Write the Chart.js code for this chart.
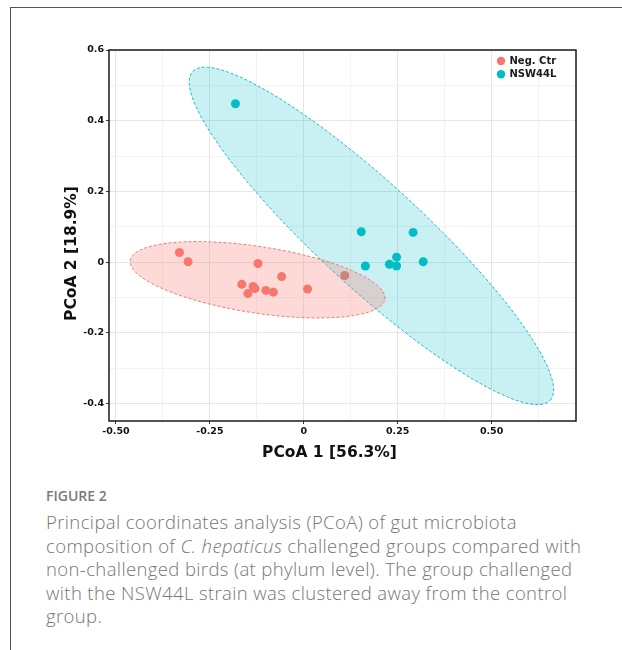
<!DOCTYPE html>
<html>
<head>
<meta charset="utf-8">
<script src="https://cdn.jsdelivr.net/npm/chart.js@4.4.1/dist/chart.umd.min.js"></script>
<style>
  html, body { margin: 0; padding: 0; background: #fff; }
  body { width: 622px; height: 650px; position: relative; overflow: hidden; }
  .frame { position: absolute; left: 10px; top: 7px; right: -2px; bottom: -2px; border-top: 1px solid #555; border-left: 1px solid #555; }
  #plot { position: absolute; left: 0; top: 0; }
  .fig-label { position: absolute; left: 46px; top: 486px; font: 600 14px "Open Sans", sans-serif; color: #7a7a7a; }
  .caption { position: absolute; left: 46px; top: 510px; font: 300 18.5px/23.6px "Open Sans", sans-serif; letter-spacing: 0.38px; color: #767676; white-space: nowrap; }
</style>
</head>
<body>
<div class="frame"></div>
<canvas id="plot" width="622" height="475"></canvas>
<div class="fig-label">FIGURE 2</div>
<div class="caption">
  Principal coordinates analysis (PCoA) of gut microbiota<br>
  composition of <i>C. hepaticus</i> challenged groups compared with<br>
  non-challenged birds (at phylum level). The group challenged<br>
  with the NSW44L strain was clustered away from the control<br>
  group.
</div>
<script>
// samples
const negX = [-0.331, -0.308, -0.122, -0.059, -0.165, -0.149, -0.135, -0.130, -0.101, -0.081, 0.010, 0.109];
const negY = [0.027, 0.001, -0.004, -0.041, -0.063, -0.089, -0.069, -0.075, -0.080, -0.085, -0.076, -0.038];
const nswX = [-0.182, 0.153, 0.291, 0.164, 0.228, 0.247, 0.247, 0.318];
const nswY = [0.448, 0.086, 0.084, -0.011, -0.006, 0.014, -0.011, 0.001];

// confidence ellipses: centre, major half-axis, minor half-axis (data units)
const negCenter = [-0.123, -0.050];
const negMajor = [0.339, -0.055];
const negMinor = [0.0135, 0.093];
const nswCenter = [0.180, 0.074];
const nswMajor = [0.476, -0.465];
const nswMinor = [0.094, 0.108];

const seriesNames = ["Neg. Ctr", "NSW44L"];

// axes
const xTicks = [-0.5, -0.25, 0, 0.25, 0.5];
const xTickLabels = ["-0.50", "-0.25", "0", "0.25", "0.50"];
const xMinor = [-0.375, -0.125, 0.125, 0.375, 0.625];
const yTicks = [-0.4, -0.2, 0, 0.2, 0.4, 0.6];
const yTickLabels = ["-0.4", "-0.2", "0", "0.2", "0.4", "0.6"];
const yMinor = [-0.3, -0.1, 0.1, 0.3, 0.5];
const xRange = [-0.5186, 0.7247];
const yRange = [-0.4495, 0.6];
const xTitle = "PCoA 1 [56.3%]";
const yTitle = "PCoA 2 [18.9%]";

const RED = "#F8766D";
const CYAN = "#00BFC4";
const TICK_FONT = { family: "DejaVu Sans", weight: "bold", size: 9.5 };

const toPoints = (xs, ys) => xs.map((x, i) => ({ x: x, y: ys[i] }));

function ellipse(c, u, v) {
  const pts = [];
  const n = 120;
  for (let i = 0; i <= n; i++) {
    const t = (i / n) * 2 * Math.PI;
    pts.push({
      x: c[0] + u[0] * Math.cos(t) + v[0] * Math.sin(t),
      y: c[1] + u[1] * Math.cos(t) + v[1] * Math.sin(t)
    });
  }
  return pts;
}

function axisOpts(range, major, minor, labels) {
  const isMajor = v => major.some(m => Math.abs(m - v) < 1e-9);
  return {
    type: "linear",
    min: range[0],
    max: range[1],
    afterBuildTicks: s => {
      s.ticks = major.concat(minor).sort((a, b) => a - b).map(v => ({ value: v }));
    },
    border: { display: false },
    grid: {
      lineWidth: 1,
      tickLength: 3,
      color: c => (c.tick && isMajor(c.tick.value) ? "#e6e6e6" : "#f3f3f3"),
      tickColor: c => (c.tick && isMajor(c.tick.value) ? "#333" : "rgba(0,0,0,0)")
    },
    ticks: {
      autoSkip: false,
      maxRotation: 0,
      padding: 2,
      color: "#111",
      font: TICK_FONT,
      callback: v => {
        const i = major.findIndex(m => Math.abs(m - v) < 1e-9);
        return i < 0 ? "" : labels[i];
      }
    }
  };
}

// panel box, inside legend and axis titles
const panelDecor = {
  id: "panelDecor",
  afterDatasetsDraw(chart) {
    const { ctx, chartArea: a } = chart;
    ctx.save();
    ctx.strokeStyle = "#1a1a1a";
    ctx.lineWidth = 1.5;
    ctx.strokeRect(a.left, a.top, a.right - a.left, a.bottom - a.top);

    // legend
    ctx.font = "bold 10px 'DejaVu Sans'";
    ctx.textBaseline = "middle";
    [RED, CYAN].forEach((col, i) => {
      const cy = a.top + 11 + i * 13.3;
      const cx = a.right - 75;
      ctx.beginPath();
      ctx.arc(cx, cy, 4.2, 0, Math.PI * 2);
      ctx.fillStyle = col;
      ctx.fill();
      ctx.fillStyle = "#1a1a1a";
      ctx.fillText(seriesNames[i], cx + 8.5, cy + 0.5);
    });

    // axis titles
    ctx.font = "bold 15.5px 'DejaVu Sans'";
    ctx.fillStyle = "#111";
    ctx.textAlign = "center";
    ctx.fillText(xTitle, (a.left + a.right) / 2 - 13, a.bottom + 32);
    ctx.translate(a.left - 37, (a.top + a.bottom) / 2 + 18);
    ctx.rotate(-Math.PI / 2);
    ctx.fillText(yTitle, 0, 0);
    ctx.restore();
  }
};

const xAxis = axisOpts(xRange, xTicks, xMinor, xTickLabels);
xAxis.afterFit = s => { s.height = 54; };
const yAxis = axisOpts(yRange, yTicks, yMinor, yTickLabels);
yAxis.afterFit = s => { s.width = 109; };

new Chart(document.getElementById("plot"), {
  type: "scatter",
  data: {
    datasets: [
      {
        label: seriesNames[0],
        data: toPoints(negX, negY),
        backgroundColor: RED,
        borderWidth: 0,
        pointRadius: 4.5,
        order: 3
      },
      {
        label: seriesNames[1],
        data: toPoints(nswX, nswY),
        backgroundColor: CYAN,
        borderWidth: 0,
        pointRadius: 4.5,
        order: 2
      },
      {
        label: seriesNames[1] + " ellipse",
        data: ellipse(nswCenter, nswMajor, nswMinor),
        showLine: true,
        fill: "shape",
        pointRadius: 0,
        borderColor: "#1bb9c0",
        borderWidth: 1,
        borderDash: [3, 2],
        backgroundColor: "rgba(0,191,196,0.21)",
        order: 1
      },
      {
        label: seriesNames[0] + " ellipse",
        data: ellipse(negCenter, negMajor, negMinor),
        showLine: true,
        fill: "shape",
        pointRadius: 0,
        borderColor: "#ef7a72",
        borderWidth: 1,
        borderDash: [3, 2],
        backgroundColor: "rgba(248,118,109,0.27)",
        order: 0
      }
    ]
  },
  options: {
    responsive: false,
    animation: false,
    layout: { padding: { top: 50, right: 46, bottom: 0, left: 0 } },
    plugins: {
      legend: { display: false },
      tooltip: { enabled: false }
    },
    scales: { x: xAxis, y: yAxis }
  },
  plugins: [panelDecor]
});
</script>
</body>
</html>
